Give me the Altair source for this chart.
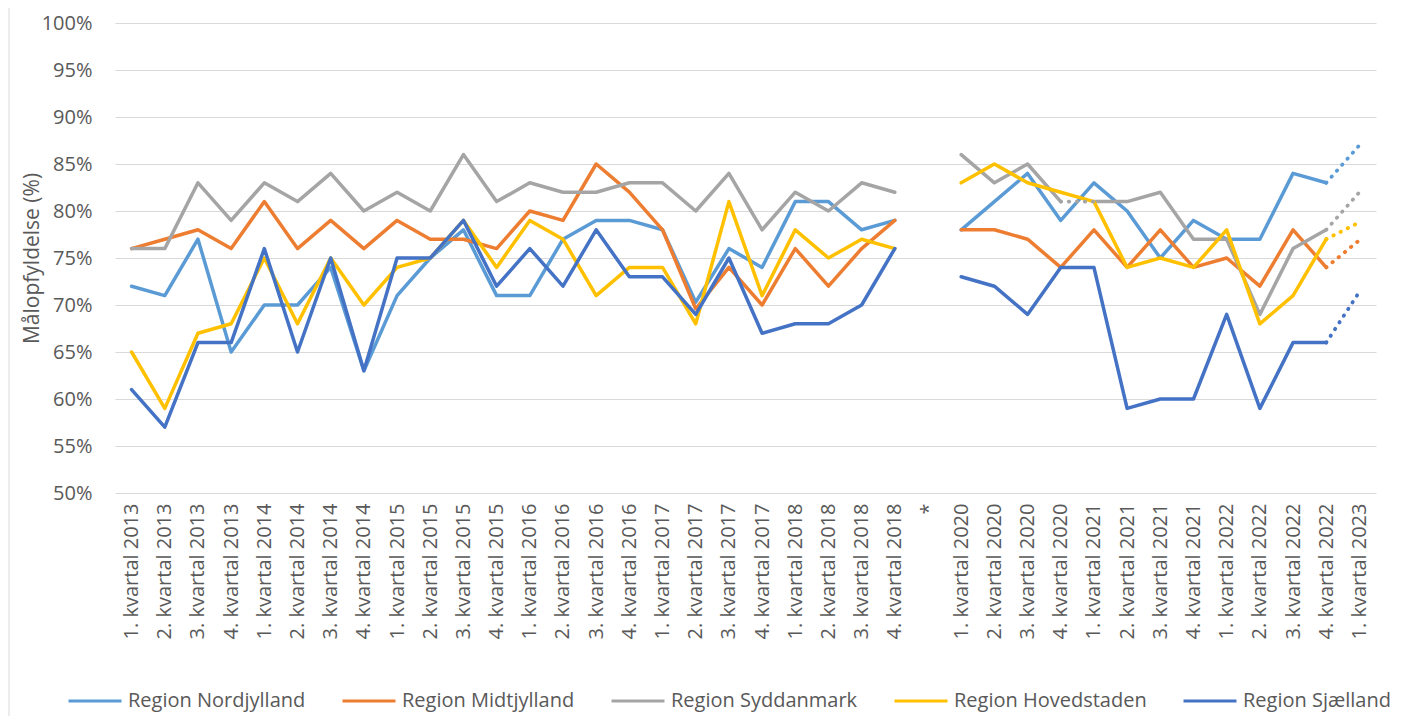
import altair as alt
import pandas as pd

# ---------------- data ----------------
categories = (
    [f"{q}. kvartal {y}" for y in range(2013, 2019) for q in (1, 2, 3, 4)]
    + ["*"]
    + [f"{q}. kvartal {y}" for y in range(2020, 2023) for q in (1, 2, 3, 4)]
    + ["1. kvartal 2023"]
)

regions = ["Region Nordjylland", "Region Midtjylland", "Region Syddanmark",
           "Region Hovedstaden", "Region Sjælland"]
colors = ["#5B9BD5", "#ED7D31", "#A5A5A5", "#FFC000", "#4472C4"]

# 1. kvartal 2013 - 4. kvartal 2018
p1_nordjylland = [72, 71, 77, 65, 70, 70, 74, 63, 71, 75, 78, 71, 71, 77, 79, 79, 78, 70.3, 76, 74, 81, 81, 78, 79]
p1_midtjylland = [76, 77, 78, 76, 81, 76, 79, 76, 79, 77, 77, 76, 80, 79, 85, 82, 78, 69.6, 74, 70, 76, 72, 76, 79]
p1_syddanmark = [76, 76, 83, 79, 83, 81, 84, 80, 82, 80, 86, 81, 83, 82, 82, 83, 83, 80, 84, 78, 82, 80, 83, 82]
p1_hovedstaden = [65, 59, 67, 68, 75, 68, 75, 70, 74, 75, 79, 74, 79, 77, 71, 74, 74, 68, 81, 71, 78, 75, 77, 76]
p1_sjaelland = [61, 57, 66, 66, 76, 65, 75, 63, 75, 75, 79, 72, 76, 72, 78, 73, 73, 69, 75, 67, 68, 68, 70, 76]

# 1. kvartal 2020 - 4. kvartal 2022
p2_nordjylland = [78, 81, 84, 79, 83, 80, 75, 79, 77, 77, 84, 83]
p2_midtjylland = [78, 78, 77, 74, 78, 74, 78, 74, 75, 72, 78, 74]
p2_syddanmark = [86, 83, 85, 81, 81, 81, 82, 77, 77, 69, 76, 78]
p2_hovedstaden = [83, 85, 83, 82, 81, 74, 75, 74, 78, 68, 71, 77]
p2_sjaelland = [73, 72, 69, 74, 74, 59, 60, 60, 69, 59, 66, 66]

# stationære tal, 1. kvartal 2023 (stiplede)
q1_2023 = [87, 76.9, 82, 78.8, 71.4]

# dotted gap in Region Syddanmark between these two quarters
syd_dotted_from = "4. kvartal 2020"
syd_dotted_to = "1. kvartal 2021"

p1 = [p1_nordjylland, p1_midtjylland, p1_syddanmark, p1_hovedstaden, p1_sjaelland]
p2 = [p2_nordjylland, p2_midtjylland, p2_syddanmark, p2_hovedstaden, p2_sjaelland]

# ---------------- table ----------------
cat_p1 = categories[:24]
cat_p2 = categories[25:37]
idx = {c: i for i, c in enumerate(categories)}

solid_rows, dotted_rows = [], []
for r, region in enumerate(regions):
    for c, v in zip(cat_p1, p1[r]):
        solid_rows.append(dict(region=region, kvartal=c, value=v, seg="a", idx=idx[c]))
    for c, v in zip(cat_p2, p2[r]):
        seg = "b"
        if region == "Region Syddanmark":
            seg = "b1" if idx[c] <= idx[syd_dotted_from] else "b2"
        solid_rows.append(dict(region=region, kvartal=c, value=v, seg=seg, idx=idx[c]))
    dotted_rows.append(dict(region=region, kvartal=cat_p2[-1], value=p2[r][-1], seg="d", idx=idx[cat_p2[-1]]))
    dotted_rows.append(dict(region=region, kvartal=categories[-1], value=q1_2023[r], seg="d", idx=idx[categories[-1]]))
    if region == "Region Syddanmark":
        for c in (syd_dotted_from, syd_dotted_to):
            dotted_rows.append(dict(region=region, kvartal=c, value=p2[r][cat_p2.index(c)],
                                    seg="g", idx=idx[c]))

solid = pd.DataFrame(solid_rows)
dotted = pd.DataFrame(dotted_rows)

FONT = "Open Sans"
GREY_TXT = "#595959"

x_enc = alt.X("kvartal:N", scale=alt.Scale(domain=categories), sort=categories,
              axis=alt.Axis(title=None, labelAngle=270, labelPadding=10, labelFontSize=20,
                            labelColor=GREY_TXT, labelFont=FONT, ticks=False, domain=False,
                            grid=False, labelOverlap=False))
y_enc = alt.Y("value:Q", scale=alt.Scale(domain=[50, 100], nice=False, zero=False),
              axis=alt.Axis(title="Målopfyldelse (%)", values=list(range(50, 101, 5)),
                            labelExpr="datum.value + '%'", labelFontSize=20, labelColor=GREY_TXT,
                            labelFont=FONT, labelPadding=23, ticks=False, domain=False,
                            grid=True, gridColor="#D9D9D9", gridWidth=1,
                            titleFont=FONT, titleFontSize=21, titleFontWeight="normal",
                            titleColor=GREY_TXT, titleAngle=270, titleX=-83, titleY=235,
                            titleAlign="center", titleBaseline="middle"))
color_enc = alt.Color("region:N", scale=alt.Scale(domain=regions, range=colors),
                      legend=alt.Legend(title=None, orient="none", legendX=-48, legendY=650,
                                        direction="horizontal", symbolType="stroke",
                                        symbolStrokeWidth=3, symbolSize=2809,
                                        labelFontSize=20, labelFont=FONT, labelColor=GREY_TXT,
                                        labelOffset=5, columnPadding=30, padding=0,
                                        labelLimit=400))

frame = alt.Chart(alt.Data(values=[{"a": 1}])).mark_rule(
    stroke="#D9D9D9", strokeWidth=1
).encode(x=alt.value(-106), y=alt.value(-16), y2=alt.value(710))

lines = alt.Chart(solid).mark_line(strokeWidth=3.5, strokeJoin="round", strokeCap="round").encode(
    x=x_enc, y=y_enc, color=color_enc, detail="seg:N", order=alt.Order("idx:Q")
)

dots = alt.Chart(dotted).mark_line(strokeWidth=3.8, strokeDash=[0.5, 7.5], strokeCap="round").encode(
    x=alt.X("kvartal:N", scale=alt.Scale(domain=categories), sort=categories),
    y=alt.Y("value:Q"),
    color=alt.Color("region:N", scale=alt.Scale(domain=regions, range=colors), legend=None),
    detail="seg:N", order=alt.Order("idx:Q")
)

chart = alt.layer(frame, lines, dots).properties(
    width=1261, height=470,
    autosize=alt.AutoSizeParams(type="none"),
    padding={"left": 107, "top": 15, "right": 34, "bottom": 223},
).configure(background="white").configure_view(stroke=None)

chart.save("out.html", embed_options={"renderer": "svg", "actions": False})
